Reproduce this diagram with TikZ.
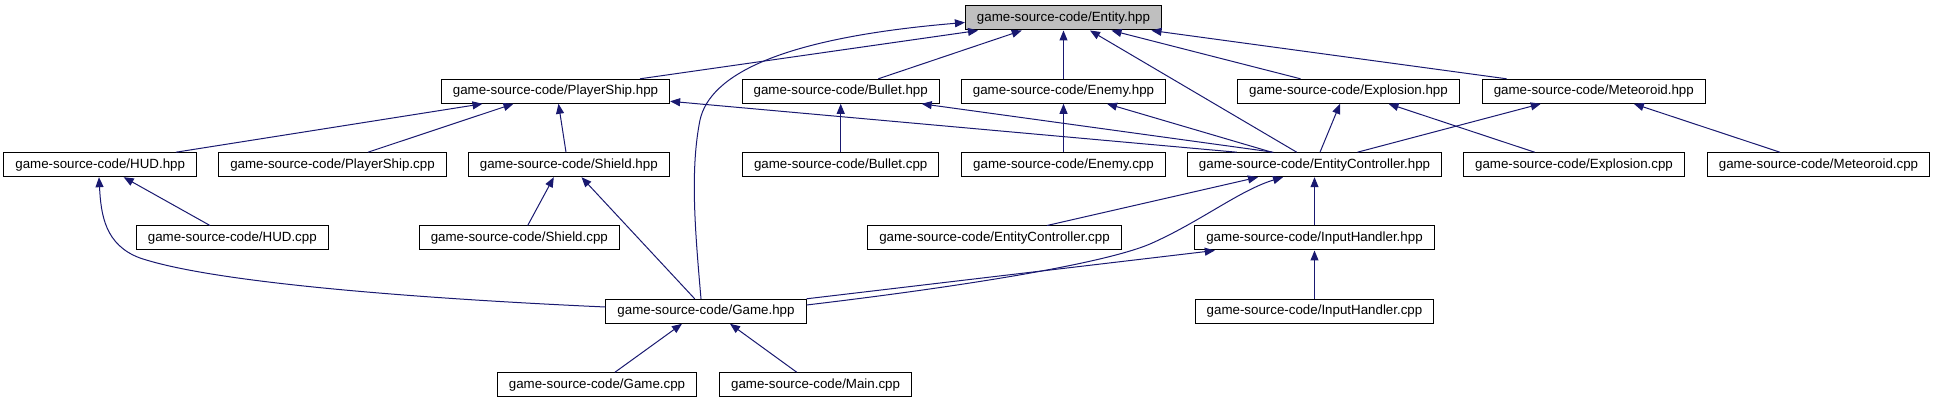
\documentclass[tikz,border=0pt]{standalone}
\usepackage{fontspec}
\setmainfont{Liberation Sans}
\usetikzlibrary{arrows.meta}
\definecolor{navy}{RGB}{25,25,112}
\definecolor{gfill}{RGB}{191,191,191}
\tikzset{
  box/.style={draw=black, line width=1pt, fill=white, minimum height=24pt,
    inner xsep=11.5pt, inner ysep=0pt, font=\fontsize{13.33}{16}\selectfont},
  dep/.style={draw=navy, line width=1pt, -{Triangle[length=10pt,width=8pt]}}
}
\begin{document}
\begin{tikzpicture}[x=1pt,y=-1pt]
\useasboundingbox (0,0) rectangle (1934,403);
% row 1
\node[box, fill=gfill] (entity) at (1063.5,18) {game-source-code/Entity.hpp};
% row 2
\node[box] (psh) at (555.5,91.3) {game-source-code/PlayerShip.hpp};
\node[box] (bulleth) at (840.7,91.3) {game-source-code/Bullet.hpp};
\node[box] (enemyh) at (1063.5,91.3) {game-source-code/Enemy.hpp};
\node[box] (exploh) at (1348.5,91.3) {game-source-code/Explosion.hpp};
\node[box] (meteh) at (1593.8,91.3) {game-source-code/Meteoroid.hpp};
% row 3
\node[box] (hudh) at (100.2,164.7) {game-source-code/HUD.hpp};
\node[box] (psc) at (332.5,164.7) {game-source-code/PlayerShip.cpp};
\node[box] (shieldh) at (568.8,164.7) {game-source-code/Shield.hpp};
\node[box] (bulletc) at (840.7,164.7) {game-source-code/Bullet.cpp};
\node[box] (enemyc) at (1063.5,164.7) {game-source-code/Enemy.cpp};
\node[box] (ech) at (1314.5,164.7) {game-source-code/EntityController.hpp};
\node[box] (exploc) at (1574,164.7) {game-source-code/Explosion.cpp};
\node[box] (metec) at (1818.5,164.7) {game-source-code/Meteoroid.cpp};
% row 4
\node[box] (hudc) at (232.3,238) {game-source-code/HUD.cpp};
\node[box] (shieldc) at (519.3,238) {game-source-code/Shield.cpp};
\node[box] (ecc) at (994.5,238) {game-source-code/EntityController.cpp};
\node[box] (ihh) at (1314.5,238) {game-source-code/InputHandler.hpp};
% row 5
\node[box] (game) at (706,311.3) {game-source-code/Game.hpp};
\node[box] (ihc) at (1314.5,311.3) {game-source-code/InputHandler.cpp};
% row 6
\node[box] (gamec) at (597,384.7) {game-source-code/Game.cpp};
\node[box] (mainc) at (815.6,384.7) {game-source-code/Main.cpp};

% edges to Entity.hpp
\draw[dep] ([xshift=84.5pt]psh.north) -- ([xshift=-85.5pt]entity.south);
\draw[dep] ([xshift=-5pt]game.north) .. controls (695,230) and (690,170) .. (700,120)
  .. controls (710,75) and (780,38) .. ([yshift=-4.5pt]entity.west);
\draw[dep] ([xshift=37.6pt]bulleth.north) -- ([xshift=-41.8pt]entity.south);
\draw[dep] (enemyh.north) -- (entity.south);
\draw[dep] ([xshift=-17.8pt]ech.north) -- ([xshift=26.5pt]entity.south);
\draw[dep] ([xshift=-48pt]exploh.north) -- ([xshift=48pt]entity.south);
\draw[dep] ([xshift=-87.2pt]meteh.north) -- ([xshift=88pt]entity.south);
% row 3 -> row 2
\draw[dep] ([xshift=75.8pt]hudh.north) -- ([xshift=-73pt]psh.south);
\draw[dep] ([xshift=35.5pt]psc.north) -- ([xshift=-42pt]psh.south);
\draw[dep] ([xshift=-2.8pt]shieldh.north) -- ([xshift=3pt]psh.south);
\draw[dep] ([xshift=-77.8pt]ech.north) -- ([yshift=-10pt]psh.east);
\draw[dep] (bulletc.north) -- (bulleth.south);
\draw[dep] ([xshift=-41.2pt]ech.north) -- ([xshift=81pt]bulleth.south);
\draw[dep] (enemyc.north) -- (enemyh.south);
\draw[dep] ([xshift=-42.8pt]ech.north) -- ([xshift=43.5pt]enemyh.south);
\draw[dep] ([xshift=5.5pt]ech.north) -- ([xshift=-8.5pt]exploh.south);
\draw[dep] ([xshift=43pt]ech.north) -- ([xshift=-53pt]meteh.south);
\draw[dep] ([xshift=-39.4pt]exploc.north) -- ([xshift=40pt]exploh.south);
\draw[dep] ([xshift=-38.6pt]metec.north) -- ([xshift=40pt]meteh.south);
% row 4/5 -> row 3
\draw[dep] ([xshift=-22.3pt]hudc.north) -- ([xshift=23.5pt]hudh.south);
\draw[dep] ([yshift=4.3pt]game.west) .. controls (450,300) and (220,285) .. (140,258)
  .. controls (105,245) and (101,215) .. ([xshift=-1.2pt]hudh.south);
\draw[dep] ([xshift=8.4pt]shieldc.north) -- ([xshift=-15pt]shieldh.south);
\draw[dep] ([xshift=-11.3pt]game.north) -- ([xshift=12.7pt]shieldh.south);
\draw[dep] ([xshift=52.5pt]ecc.north) -- ([xshift=-56.5pt]ech.south);
\draw[dep] ([yshift=6.3pt]game.east) .. controls (950,288) and (1100,265) .. (1150,244)
  .. controls (1200,222) and (1240,190) .. ([xshift=-31.5pt]ech.south);
\draw[dep] (ihh.north) -- (ech.south);
\draw[dep] (ihc.north) -- (ihh.south);
\draw[dep] (game.north east) -- ([xshift=-99.7pt]ihh.south);
% row 6 -> row 5
\draw[dep] ([xshift=18pt]gamec.north) -- ([xshift=-24pt]game.south);
\draw[dep] ([xshift=-18.9pt]mainc.north) -- ([xshift=24pt]game.south);
\end{tikzpicture}
\end{document}
